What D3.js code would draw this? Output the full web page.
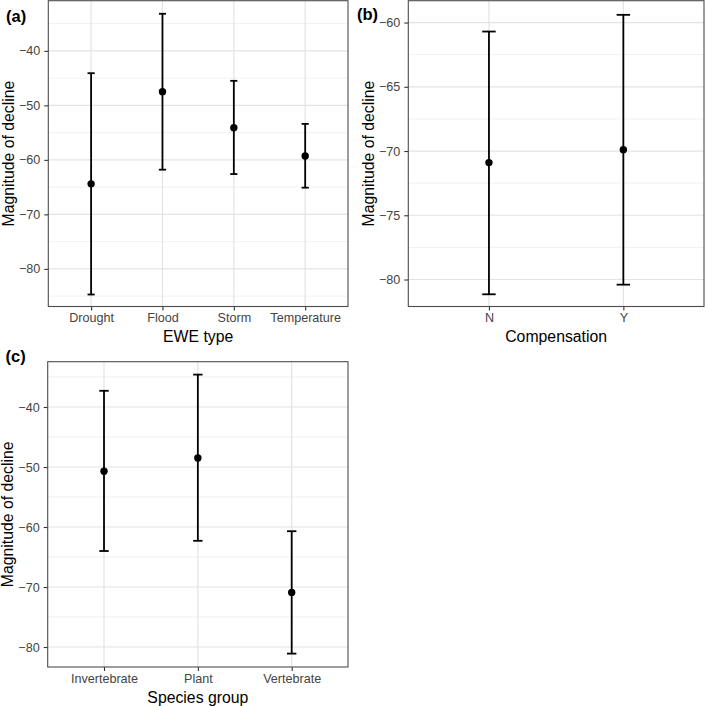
<!DOCTYPE html>
<html>
<head>
<meta charset="utf-8">
<script src="https://cdn.jsdelivr.net/npm/d3@7"></script>
<style>
  body { margin: 0; background: #fff; }
  text { font-family: "Liberation Sans", Arial, Helvetica, sans-serif; }
</style>
</head>
<body>
<script>
// (a) EWE type
const eweTypes = ['Drought', 'Flood', 'Storm', 'Temperature'];
const eweMean  = [-64.4, -47.5, -54.1, -59.3];
const eweLower = [-84.7, -61.8, -62.6, -65.1];
const eweUpper = [-44.1, -33.2, -45.5, -53.4];
const eweTicks = [-80, -70, -60, -50, -40];

// (b) Compensation
const compCats  = ['N', 'Y'];
const compMean  = [-70.9, -69.9];
const compLower = [-81.15, -80.4];
const compUpper = [-60.7, -59.4];
const compTicks = [-80, -75, -70, -65, -60];

// (c) Species group
const speciesCats  = ['Invertebrate', 'Plant', 'Vertebrate'];
const speciesMean  = [-50.7, -48.5, -70.9];
const speciesLower = [-64.0, -62.3, -81.1];
const speciesUpper = [-37.3, -34.6, -60.7];
const speciesTicks = [-80, -70, -60, -50, -40];

const width = 709, height = 706;

const svg = d3.select('body').append('svg')
  .attr('width', width)
  .attr('height', height);

svg.append('rect').attr('width', width).attr('height', height).attr('fill', '#fff');

function drawPanel(p) {
  const x = d3.scalePoint().domain(p.cats).range([p.left, p.right]).padding(0.6);
  const y = d3.scaleLinear().domain(p.ydomain).range([p.bottom, p.top]);
  const g = svg.append('g');
  const step = x.step();

  // minor grid at midpoints between major ticks
  const half = (p.ticks[1] - p.ticks[0]) / 2;
  const minor = [p.ticks[0] - half].concat(p.ticks.map(t => t + half))
    .filter(v => v > p.ydomain[0] && v < p.ydomain[1]);

  g.selectAll('.minor').data(minor).enter().append('line')
    .attr('x1', p.left).attr('x2', p.right)
    .attr('y1', d => y(d)).attr('y2', d => y(d))
    .attr('stroke', '#ebebeb').attr('stroke-width', 0.7);

  g.selectAll('.major').data(p.ticks).enter().append('line')
    .attr('x1', p.left).attr('x2', p.right)
    .attr('y1', d => y(d)).attr('y2', d => y(d))
    .attr('stroke', '#e3e3e3').attr('stroke-width', 1.2);

  g.selectAll('.vgrid').data(p.cats).enter().append('line')
    .attr('x1', d => x(d)).attr('x2', d => x(d))
    .attr('y1', p.top).attr('y2', p.bottom)
    .attr('stroke', '#e3e3e3').attr('stroke-width', 1.2);

  // axes
  const yAxis = d3.axisLeft(y).tickValues(p.ticks).tickSize(4).tickPadding(4)
    .tickFormat(d => d3.format('d')(d).replace('-', '\u2212'));
  const ya = g.append('g').attr('transform', `translate(${p.left},0)`).call(yAxis);
  const xAxis = d3.axisBottom(x).tickSize(4).tickPadding(3);
  const xa = g.append('g').attr('transform', `translate(0,${p.bottom})`).call(xAxis);
  [ya, xa].forEach(a => {
    a.select('.domain').remove();
    a.selectAll('.tick line').attr('stroke', '#333').attr('stroke-width', 1.1);
    a.selectAll('.tick text').attr('fill', '#444').style('font-size', '12.6px')
      .style('font-family', '"Liberation Sans", Arial, sans-serif');
  });

  g.append('rect')
    .attr('x', p.left).attr('y', p.top)
    .attr('width', p.right - p.left).attr('height', p.bottom - p.top)
    .attr('fill', 'none').attr('stroke', '#4d4d4d').attr('stroke-width', 1.1);

  const rows = p.cats.map((c, i) => ({cat: c, mean: p.mean[i], lo: p.lower[i], hi: p.upper[i]}));

  const eb = g.selectAll('.eb').data(rows).enter().append('g')
    .attr('stroke', '#000').attr('stroke-width', 1.8);
  eb.append('line')
    .attr('x1', d => x(d.cat)).attr('x2', d => x(d.cat))
    .attr('y1', d => y(d.lo)).attr('y2', d => y(d.hi));
  eb.append('line')
    .attr('x1', d => x(d.cat) - step * 0.05).attr('x2', d => x(d.cat) + step * 0.05)
    .attr('y1', d => y(d.lo)).attr('y2', d => y(d.lo));
  eb.append('line')
    .attr('x1', d => x(d.cat) - step * 0.05).attr('x2', d => x(d.cat) + step * 0.05)
    .attr('y1', d => y(d.hi)).attr('y2', d => y(d.hi));

  g.selectAll('.pt').data(rows).enter().append('circle')
    .attr('cx', d => x(d.cat)).attr('cy', d => y(d.mean))
    .attr('r', 3.7).attr('fill', '#000');

  g.append('text').text(p.xtitle)
    .attr('x', (p.left + p.right) / 2).attr('y', p.bottom + 35.5)
    .attr('text-anchor', 'middle').style('font-size', '15.8px').attr('fill', '#000');

  g.append('text').text('Magnitude of decline')
    .attr('transform', `translate(${p.left - 34.5},${(p.top + p.bottom) / 2}) rotate(-90)`)
    .attr('text-anchor', 'middle').style('font-size', '15.8px').attr('fill', '#000');

  g.append('text').text(p.label)
    .attr('x', p.labelX).attr('y', p.labelY)
    .style('font-size', '16.5px').style('font-weight', 'bold').attr('fill', '#000');
}

drawPanel({cats: eweTypes, mean: eweMean, lower: eweLower, upper: eweUpper, ticks: eweTicks,
  ydomain: [-86.9, -30.8], left: 48.3, right: 348, top: 0.7, bottom: 306.5,
  xtitle: 'EWE type', label: '(a)', labelX: 6, labelY: 21.5});

drawPanel({cats: compCats, mean: compMean, lower: compLower, upper: compUpper, ticks: compTicks,
  ydomain: [-82.1, -58.3], left: 408.3, right: 704, top: 0.7, bottom: 306.5,
  xtitle: 'Compensation', label: '(b)', labelX: 357, labelY: 20});

drawPanel({cats: speciesCats, mean: speciesMean, lower: speciesLower, upper: speciesUpper, ticks: speciesTicks,
  ydomain: [-83.33, -32.45], left: 47.7, right: 348, top: 361.7, bottom: 667,
  xtitle: 'Species group', label: '(c)', labelX: 5.5, labelY: 361.5});
</script>
</body>
</html>
